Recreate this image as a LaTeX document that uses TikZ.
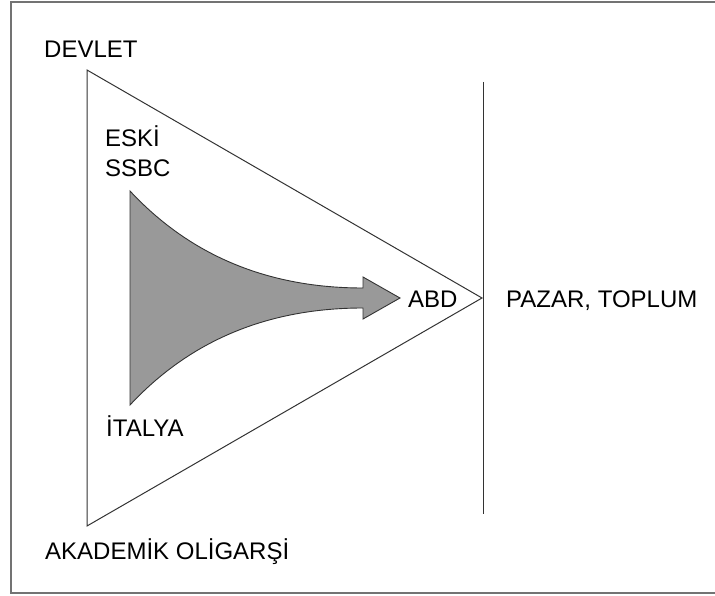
\documentclass[tikz,border=0pt]{standalone}
\usepackage{fontspec}
\setmainfont{Liberation Sans}
\usepackage{tikz}

\tikzset{
  lbl/.style={anchor=base west, inner sep=0pt, font=\fontsize{24}{30}\selectfont, align=left},
  thinline/.style={draw=black!80, line width=1pt},
  frameline/.style={draw=black!55, line width=1.6pt}
}

\begin{document}
\begin{tikzpicture}[x=1pt, y=-1pt]
\useasboundingbox (0,0) rectangle (715,596);
\clip (0,0) rectangle (715,596);
\draw[frameline] (11,2) rectangle (730,593);

% triangle
\coordinate (top) at (87,70);
\coordinate (bottom) at (87,526);
\coordinate (apex) at (482,298);
\draw[thinline] (top) -- (apex) -- (bottom) -- cycle;

% border line
\coordinate (lineTop) at (483,82);
\coordinate (lineBottom) at (483,514);
\draw[thinline] (lineTop) -- (lineBottom);

% flow arrow
\filldraw[fill=black!40, draw=black!80, line width=0.9pt]
  (130,191) .. controls (185,250) and (260,288) .. (363,288)
  -- (363,277) -- (400,298) -- (363,319) -- (363,308)
  .. controls (260,308) and (185,346) .. (130,405) -- cycle;

\node[lbl] (devlet) at (44,58) {DEVLET};
\node[lbl] (eski) at (105,177) {ESKİ\\SSBC};
\node[lbl] (italya) at (106,436) {İTALYA};
\node[lbl] (akademik) at (45,559) {AKADEMİK OLİGARŞİ};
\node[lbl] (abd) at (408,307) {ABD};
\node[lbl] (pazar) at (506,307) {PAZAR, TOPLUM};
\end{tikzpicture}
\end{document}
